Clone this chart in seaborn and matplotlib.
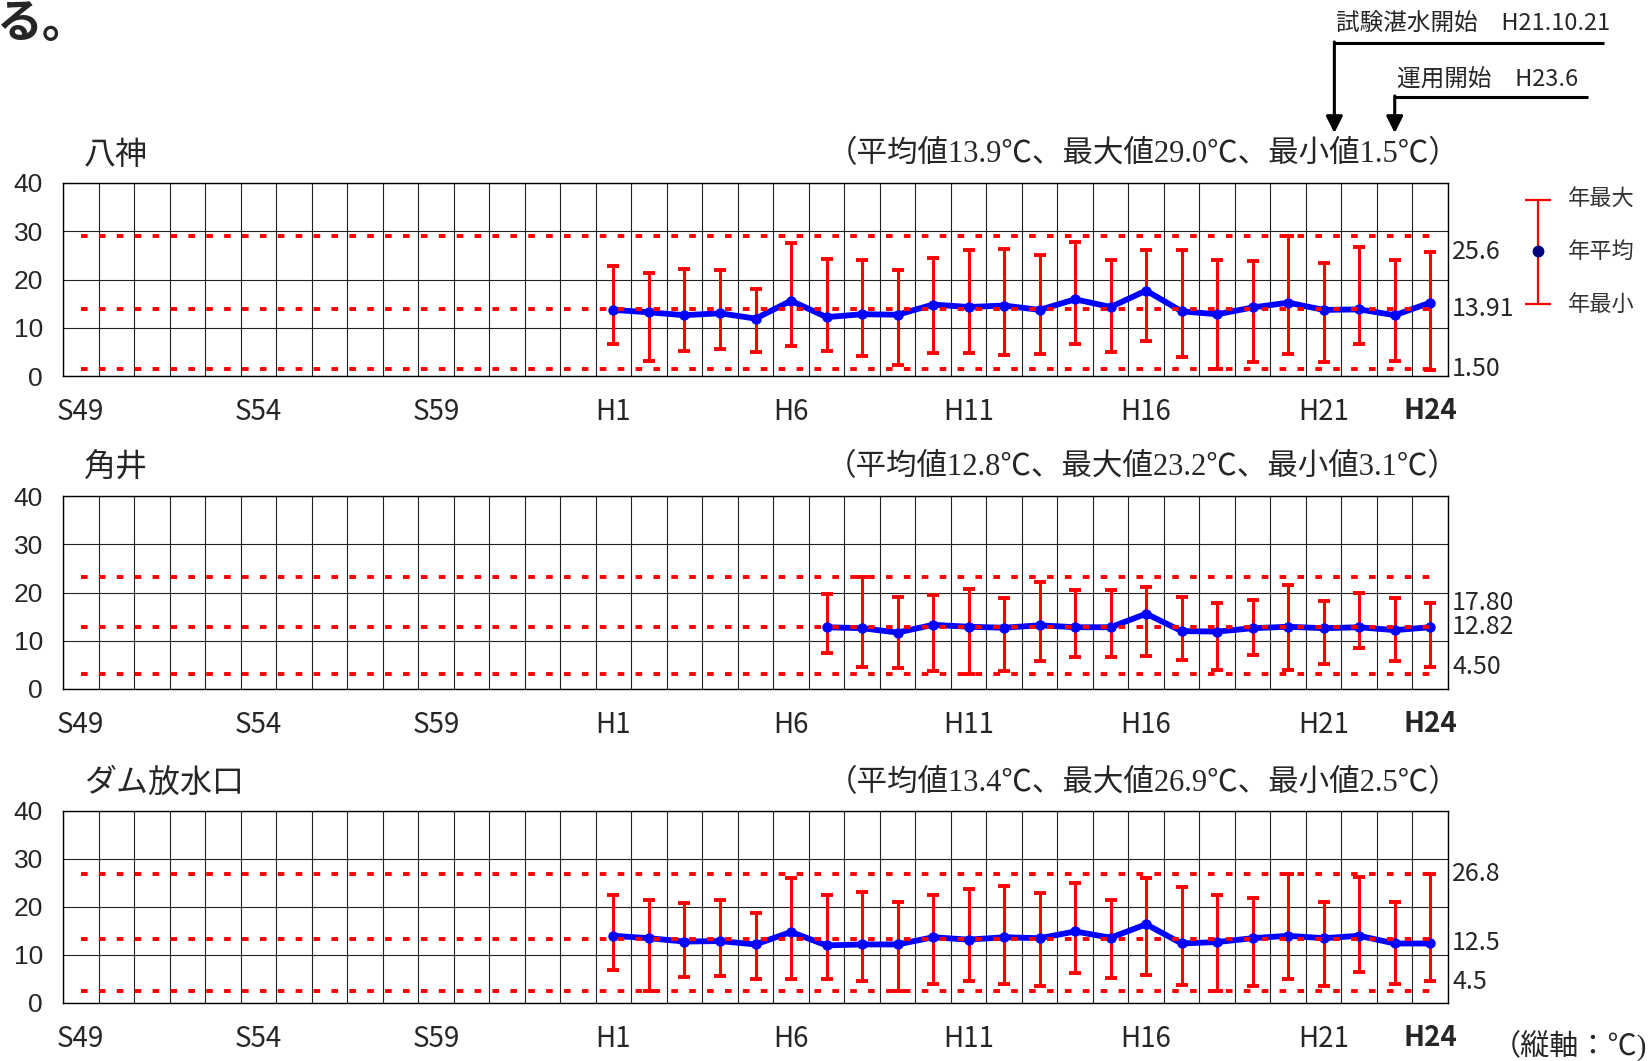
import numpy as np
import pandas as pd
import matplotlib.pyplot as plt
import matplotlib.transforms as mtransforms
import seaborn as sns

# 年の並び (S49〜H24)
years = [f"S{n}" for n in range(49, 64)] + [f"H{n}" for n in range(1, 25)]
tick_years = ["S49", "S54", "S59", "H1", "H6", "H11", "H16", "H21", "H24"]

# 八神 (H1〜H24)
yagami_max = [22.9, 21.4, 22.2, 22.0, 18.1, 27.6, 24.3, 24.1, 21.9, 24.5, 26.1, 26.3,
              25.0, 27.7, 24.1, 26.1, 26.1, 24.1, 23.9, 29.0, 23.5, 26.8, 24.1, 25.6]
yagami_mean = [13.7, 13.2, 12.6, 13.0, 11.9, 15.6, 12.2, 12.8, 12.7, 14.8, 14.3, 14.6,
               13.7, 15.9, 14.3, 17.7, 13.4, 12.8, 14.2, 15.2, 13.7, 13.8, 12.6, 15.2]
yagami_min = [6.7, 3.1, 5.2, 5.5, 5.0, 6.3, 5.1, 4.2, 2.2, 4.8, 4.8, 4.3,
              4.6, 6.6, 5.0, 7.2, 3.9, 1.5, 3.0, 4.6, 3.0, 6.6, 3.1, 1.2]
yagami_stats = [13.9, 29.0, 1.5]
yagami_right = ["25.6", "13.91", "1.50"]
yagami_right_y = [25.6, 13.91, 1.5]

# 角井 (H7〜H24)
kakui_max = [19.6, 23.2, 19.1, 19.5, 20.8, 18.9, 22.2, 20.6, 20.6, 21.1, 19.1, 17.9,
             18.5, 21.6, 18.3, 19.9, 18.8, 17.8]
kakui_mean = [12.8, 12.6, 11.7, 13.3, 12.9, 12.7, 13.2, 12.8, 12.8, 15.6, 12.0, 11.9,
              12.6, 12.9, 12.6, 12.8, 12.2, 12.8]
kakui_min = [7.4, 4.5, 4.3, 3.8, 3.1, 3.8, 5.8, 6.7, 6.7, 6.9, 6.0, 4.0,
             7.1, 3.9, 5.1, 8.5, 5.7, 4.6]
kakui_stats = [12.8, 23.2, 3.1]
kakui_right = ["17.80", "12.82", "4.50"]
kakui_right_y = [17.9, 12.8, 4.6]

# ダム放水口 (H1〜H24)
dam_max = [22.6, 21.4, 20.8, 21.4, 18.8, 26.1, 22.6, 23.1, 21.0, 22.6, 23.8, 24.3,
           23.0, 25.1, 21.4, 26.1, 24.2, 22.6, 21.9, 26.9, 21.0, 26.3, 21.0, 26.9]
dam_mean = [14.0, 13.5, 12.8, 12.9, 12.2, 14.8, 12.0, 12.2, 12.2, 13.7, 13.2, 13.7,
            13.5, 14.9, 13.6, 16.4, 12.4, 12.7, 13.5, 14.0, 13.5, 14.0, 12.4, 12.4]
dam_min = [6.9, 2.6, 5.4, 5.6, 5.1, 5.1, 5.0, 4.6, 2.5, 4.0, 4.5, 3.9,
           3.5, 6.2, 5.2, 5.9, 3.8, 2.5, 3.5, 5.0, 3.5, 6.5, 4.0, 4.5]
dam_stats = [13.4, 26.9, 2.5]
dam_right = ["26.8", "12.5", "4.5"]
dam_right_y = [26.9, 12.4, 4.3]

sns.set_style("white")
plt.rcParams['font.family'] = ['Noto Sans CJK JP', 'DejaVu Sans']

NARROW = ['Liberation Sans Narrow', 'Noto Sans CJK JP']
SERIF = ['Liberation Serif', 'Noto Sans CJK JP']

W, H = 1650, 1061
fig = plt.figure(figsize=(W / 100, H / 100), dpi=100)


def px_rect(left, top, right, bottom):
    return [left / W, 1 - bottom / H, (right - left) / W, (bottom - top) / H]


def draw_panel(ax, name, start, vmax, vmean, vmin, stats, right, right_y):
    vmax, vmean, vmin = np.array(vmax), np.array(vmean), np.array(vmin)
    xs = np.arange(years.index(start), years.index(start) + len(vmean))
    df = pd.DataFrame({"x": xs, "mean": vmean})

    ax.errorbar(xs, vmean, yerr=[vmean - vmin, vmax - vmean], fmt='none',
                ecolor='red', elinewidth=2.2, capsize=4.5, capthick=2.8, zorder=3)
    sns.lineplot(data=df, x="x", y="mean", ax=ax, color='blue', linewidth=4.2,
                 marker='o', markersize=7.5, markeredgewidth=0, zorder=4)
    # 期間の平均値・最大値・最小値 (赤点線)
    for v in stats:
        ax.plot([0, len(years) - 1], [v, v], color='red', linewidth=2.8,
                dashes=(1.7, 2.9), solid_capstyle='butt', dash_capstyle='butt',
                zorder=5)

    ax.set_xlim(-0.5, len(years) - 0.5)
    ax.set_ylim(0, 40)
    ax.set_xticks([years.index(t) for t in tick_years])
    ax.set_xticklabels(tick_years, family=NARROW, fontsize=20)
    ax.get_xticklabels()[-1].set_fontweight('bold')
    ax.set_xticks(np.arange(-0.5, len(years)), minor=True)
    ax.set_yticks(range(0, 41, 10))
    ax.set_yticklabels([str(v) for v in range(0, 41, 10)],
                       family=['Liberation Sans'], fontsize=19)
    ax.tick_params(axis='x', which='major', length=0, pad=15)
    ax.tick_params(axis='x', which='minor', length=6, width=1, direction='out',
                   color='#222222')
    ax.tick_params(axis='y', length=6.5, width=1, direction='out', pad=8,
                   color='#222222')
    ax.grid(which='minor', axis='x', color='#222222', lw=0.8)
    ax.grid(which='major', axis='y', color='#222222', lw=0.8)
    ax.grid(which='major', axis='x', visible=False)
    for s in ax.spines.values():
        s.set_color('black')
        s.set_linewidth(1)
    ax.set_xlabel("")
    ax.set_ylabel("")

    ax.text(0.0152, 1.145, name, transform=ax.transAxes, fontsize=23,
            va='center', ha='left')
    ax.text(1.008, 1.145,
            f"（平均値{stats[0]:.1f}℃、最大値{stats[1]:.1f}℃、最小値{stats[2]:.1f}℃）",
            transform=ax.transAxes, fontsize=22, va='center', ha='right',
            family=SERIF)
    for lab, yv in zip(right, right_y):
        ax.text(1.003, yv, lab, transform=ax.get_yaxis_transform(),
                fontsize=18, family=NARROW, va='center', ha='left')


ax1 = fig.add_axes(px_rect(63, 183, 1448, 376))
ax2 = fig.add_axes(px_rect(63, 496, 1448, 689))
ax3 = fig.add_axes(px_rect(63, 811, 1448, 1003))

draw_panel(ax1, "八神", "H1", yagami_max, yagami_mean, yagami_min,
           yagami_stats, yagami_right, yagami_right_y)
draw_panel(ax2, "角井", "H7", kakui_max, kakui_mean, kakui_min,
           kakui_stats, kakui_right, kakui_right_y)
draw_panel(ax3, "ダム放水口", "H1", dam_max, dam_mean, dam_min,
           dam_stats, dam_right, dam_right_y)

# 試験湛水・運用開始の矢印
blend = mtransforms.blended_transform_factory(ax1.transData, fig.transFigure)


def fy(y):
    return 1 - y / H


for x0, x1, yl, label, ytxt in [(35.3, 42.9, 43, "試験湛水開始　H21.10.21", 23),
                                (37.0, 42.45, 97, "運用開始　H23.6", 80)]:
    ax1.plot([x0, x1], [fy(yl), fy(yl)], transform=blend, color='black',
             lw=2.2, clip_on=False, solid_capstyle='butt')
    ax1.annotate("", xy=(x0, fy(133)), xytext=(x0, fy(yl) + 0.001),
                 xycoords=blend, textcoords=blend,
                 arrowprops=dict(arrowstyle='-|>,head_length=0.5,head_width=0.25',
                                 mutation_scale=20, lw=2.2, color='black',
                                 shrinkA=0, shrinkB=0))
    ax1.text(x0 + 0.05, fy(ytxt), label, transform=blend, fontsize=17,
             family=NARROW, va='center', ha='left')

# 凡例
lax = fig.add_axes(px_rect(1500, 185, 1650, 320))
lax.set_xlim(1500, 1650)
lax.set_ylim(320, 185)
lax.axis('off')
lax.errorbar([1538], [251], yerr=[[51], [53]], fmt='none', ecolor='red',
             elinewidth=1.6, capsize=9.5, capthick=1.6)
lax.plot([1538], [251], 'o', color='#000080', markersize=7.5)
for lab, yv in zip(["年最大", "年平均", "年最小"], [198, 251, 304]):
    lax.text(1568, yv, lab, fontsize=16, color='#333333', va='center', ha='left')

fig.text(-0.002, 1 - 1 / H, "る。", fontsize=33, va='top', ha='left',
         fontweight='bold')
fig.text(1647 / W, 1 - 1046 / H, "（縦軸：℃)", fontsize=21, va='center',
         ha='right', family=SERIF)

fig.savefig("out.png", dpi=100)
